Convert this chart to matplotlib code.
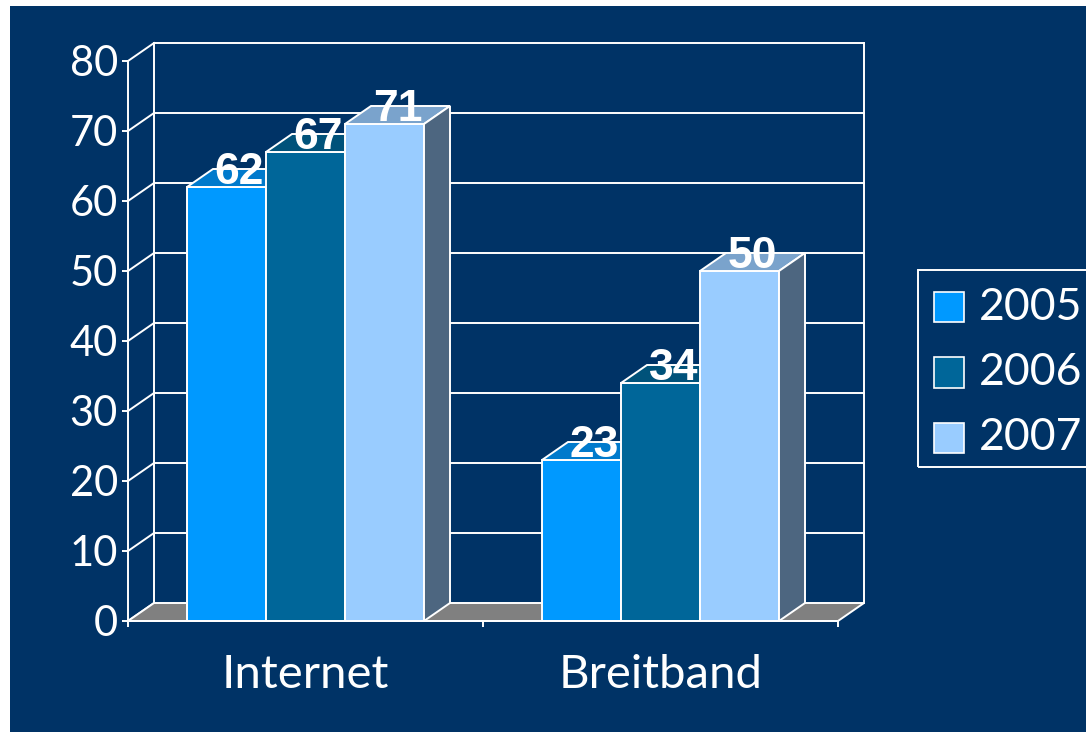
import matplotlib
matplotlib.use("Agg")
import matplotlib.pyplot as plt
from matplotlib.patches import Polygon, Rectangle
import numpy as np

categories = ["Internet", "Breitband"]
series = ["2005", "2006", "2007"]
values = {
    "2005": [62, 23],
    "2006": [67, 34],
    "2007": [71, 50],
}
yticks = [0, 10, 20, 30, 40, 50, 60, 70, 80]

colors = {"2005": (0/255, 153/255, 255/255),
          "2006": (0/255, 102/255, 153/255),
          "2007": (153/255, 204/255, 255/255)}
navy = "#003366"
W, H = 1086, 732

plt.rcParams['font.family'] = ['Lato', 'DejaVu Sans']
fig = plt.figure(figsize=(W/100, H/100), dpi=100, facecolor="white")
fig.patches.append(Rectangle((10/W, 0), 1, 1 - 6/H, transform=fig.transFigure,
                             facecolor=navy, edgecolor="none", zorder=-10))

ax = fig.add_axes([128/W, 111/H, 710/W, 560/H])
ax.set_facecolor("none")
ax.set_xlim(-0.5, 1.5)
ax.set_ylim(0, 80)

xpu = 710/2.0
ypu = 560/80.0
dx = 26/xpu
dy = 18/ypu
x0, x1 = -0.5, 1.5
wcol = "white"
lw = 1.4

# back wall / grid
for v in yticks:
    ax.plot([x0, x0+dx], [v, v+dy], color=wcol, lw=lw, clip_on=False, zorder=1)
    if v > 0:
        ax.plot([x0+dx, x1+dx], [v+dy, v+dy], color=wcol, lw=lw, clip_on=False, zorder=1)
ax.plot([x0+dx, x0+dx], [dy, 80+dy], color=wcol, lw=lw, clip_on=False, zorder=1)
ax.plot([x1+dx, x1+dx], [dy, 80+dy], color=wcol, lw=lw, clip_on=False, zorder=1)
ax.add_patch(Polygon([(x0, 0), (x1, 0), (x1+dx, dy), (x0+dx, dy)], closed=True,
                     facecolor="#808080", edgecolor=wcol, lw=lw, clip_on=False, zorder=1.5))

bw = 79/xpu
xs = np.arange(len(categories))
z = 3
for ci in range(len(categories)):
    for si, s in enumerate(series):
        v = values[s][ci]
        c = np.array(colors[s])
        left = xs[ci] + (si - 1.5) * bw
        ax.bar(left, v, width=bw, align="edge", color=c, edgecolor=wcol, lw=lw,
               zorder=z, clip_on=False)
        ax.add_patch(Polygon([(left, v), (left+bw, v), (left+bw+dx, v+dy), (left+dx, v+dy)],
                             closed=True, facecolor=c*0.8, edgecolor=wcol, lw=lw,
                             zorder=z+0.1, clip_on=False))
        ax.add_patch(Polygon([(left+bw, 0), (left+bw+dx, dy), (left+bw+dx, v+dy), (left+bw, v)],
                             closed=True, facecolor=c*0.5, edgecolor=wcol, lw=lw,
                             zorder=z+0.2, clip_on=False))
        z += 1
for ci in range(len(categories)):
    for si, s in enumerate(series):
        v = values[s][ci]
        cx = xs[ci] + (si - 1) * bw + dx/2
        ax.text(cx, v + 2.1, str(v), ha="center", va="center", color="white",
                fontsize=32, fontweight="bold", family=["Liberation Sans", "DejaVu Sans"],
                zorder=50, clip_on=False)

for sp in ["top", "right"]:
    ax.spines[sp].set_visible(False)
for sp in ["left", "bottom"]:
    ax.spines[sp].set_color(wcol)
    ax.spines[sp].set_linewidth(lw)
    ax.spines[sp].set_zorder(40)

ax.set_yticks(yticks)
ax.set_yticklabels([str(t) for t in yticks])
ax.tick_params(axis="y", colors=wcol, direction="out", length=4.3, width=lw, pad=3,
               labelsize=30)

ax.set_xticks([-0.5, 0.5, 1.5])
ax.set_xticklabels([])
ax.set_xticks(xs, minor=True)
ax.set_xticklabels(categories, minor=True)
ax.tick_params(axis="x", which="major", colors=wcol, direction="out", length=4.3, width=lw)
ax.tick_params(axis="x", which="minor", colors=wcol, length=0, pad=24, labelsize=34)

# legend
lx, ly, lwid, lh = 918, 270, 200, 197
fig.patches.append(Rectangle((lx/W, 1-(ly+lh)/H), lwid/W, lh/H, transform=fig.transFigure,
                             facecolor="none", edgecolor=wcol, lw=lw, zorder=5))
for si, s in enumerate(series):
    top = 292 + si * 65.5
    fig.text(979/W, 1-(top+15)/H, s, ha="left", va="center", color=wcol, fontsize=32)
    fig.patches.append(Rectangle((934/W, 1-(top+30)/H), 30/W, 30/H, transform=fig.transFigure,
                                 facecolor=colors[s], edgecolor=wcol, lw=1.2, zorder=6))

fig.savefig("out.png", dpi=100, facecolor=fig.get_facecolor())
